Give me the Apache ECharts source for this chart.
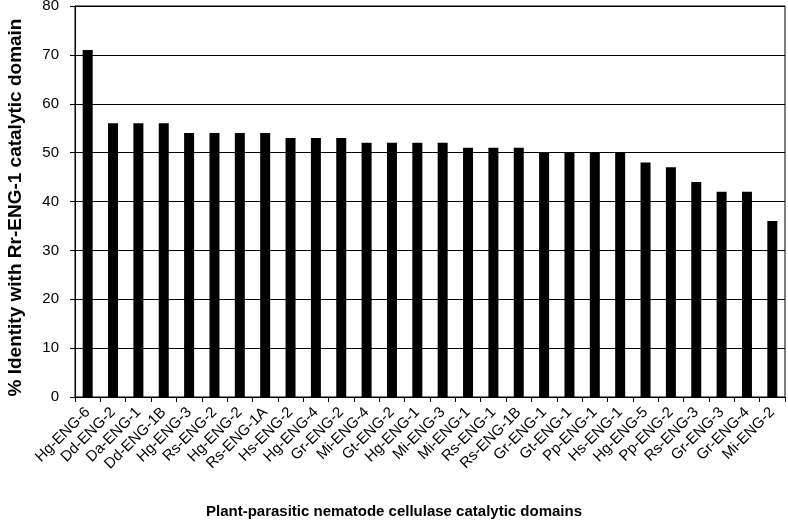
<!DOCTYPE html>
<html><head><meta charset="utf-8">
<script src="https://cdn.jsdelivr.net/npm/echarts@6/dist/echarts.min.js"></script>
<style>html,body{margin:0;padding:0;background:#fff}#c{width:788px;height:522px}</style>
</head><body><div id="c"></div>
<script>
const categories = ["Hg-ENG-6","Dd-ENG-2","Da-ENG-1","Dd-ENG-1B","Hg-ENG-3","Rs-ENG-2","Hg-ENG-2","Rs-ENG-1A","Hs-ENG-2","Hg-ENG-4","Gr-ENG-2","Mi-ENG-4","Gt-ENG-2","Hg-ENG-1","Mi-ENG-3","Mi-ENG-1","Rs-ENG-1","Rs-ENG-1B","Gr-ENG-1","Gt-ENG-1","Pp-ENG-1","Hs-ENG-1","Hg-ENG-5","Pp-ENG-2","Rs-ENG-3","Gr-ENG-3","Gr-ENG-4","Mi-ENG-2"];
const identity = [71,56,56,56,54,54,54,54,53,53,53,52,52,52,52,51,51,51,50,50,50,50,48,47,44,42,42,36];
const yTicks = {min:0, max:80, interval:10};
const xTitle = "Plant-parasitic nematode cellulase catalytic domains";
const yTitle = "% Identity with Rr-ENG-1 catalytic domain";

const chart = echarts.init(document.getElementById('c'), null, {renderer:'canvas'});
const font = '"Liberation Sans", Arial, sans-serif';
chart.setOption({
  animation:false,
  backgroundColor:'#fff',
  title:{text:xTitle,left:'center',top:504,padding:0,textStyle:{fontFamily:font,fontWeight:'bold',fontSize:15,color:'#000'}},
  grid:{left:75,right:3,top:6,bottom:125,show:true,borderColor:'#000',borderWidth:1,containLabel:false,outerBoundsMode:'none'},
  xAxis:{type:'category',data:categories,
    axisLine:{lineStyle:{color:'#000',width:1}},
    axisTick:{show:true,length:5,lineStyle:{color:'#000'}},
    axisLabel:{rotate:45,fontFamily:font,fontSize:15,color:'#000',margin:13,interval:0}},
  yAxis:{type:'value',min:yTicks.min,max:yTicks.max,interval:yTicks.interval,
    name:yTitle,nameLocation:'middle',nameGap:50,
    nameTextStyle:{fontFamily:font,fontWeight:'bold',fontSize:19,color:'#000',padding:[0,12,0,0]},
    axisLine:{show:true,lineStyle:{color:'#000',width:1}},
    axisTick:{show:true,length:5,lineStyle:{color:'#000'}},
    axisLabel:{fontFamily:font,fontSize:15,color:'#000',margin:16},
    splitLine:{lineStyle:{color:'#000',width:1}}},
  series:[{type:'bar',data:identity,barWidth:10,itemStyle:{color:'#000'}}]
});
</script></body></html>
